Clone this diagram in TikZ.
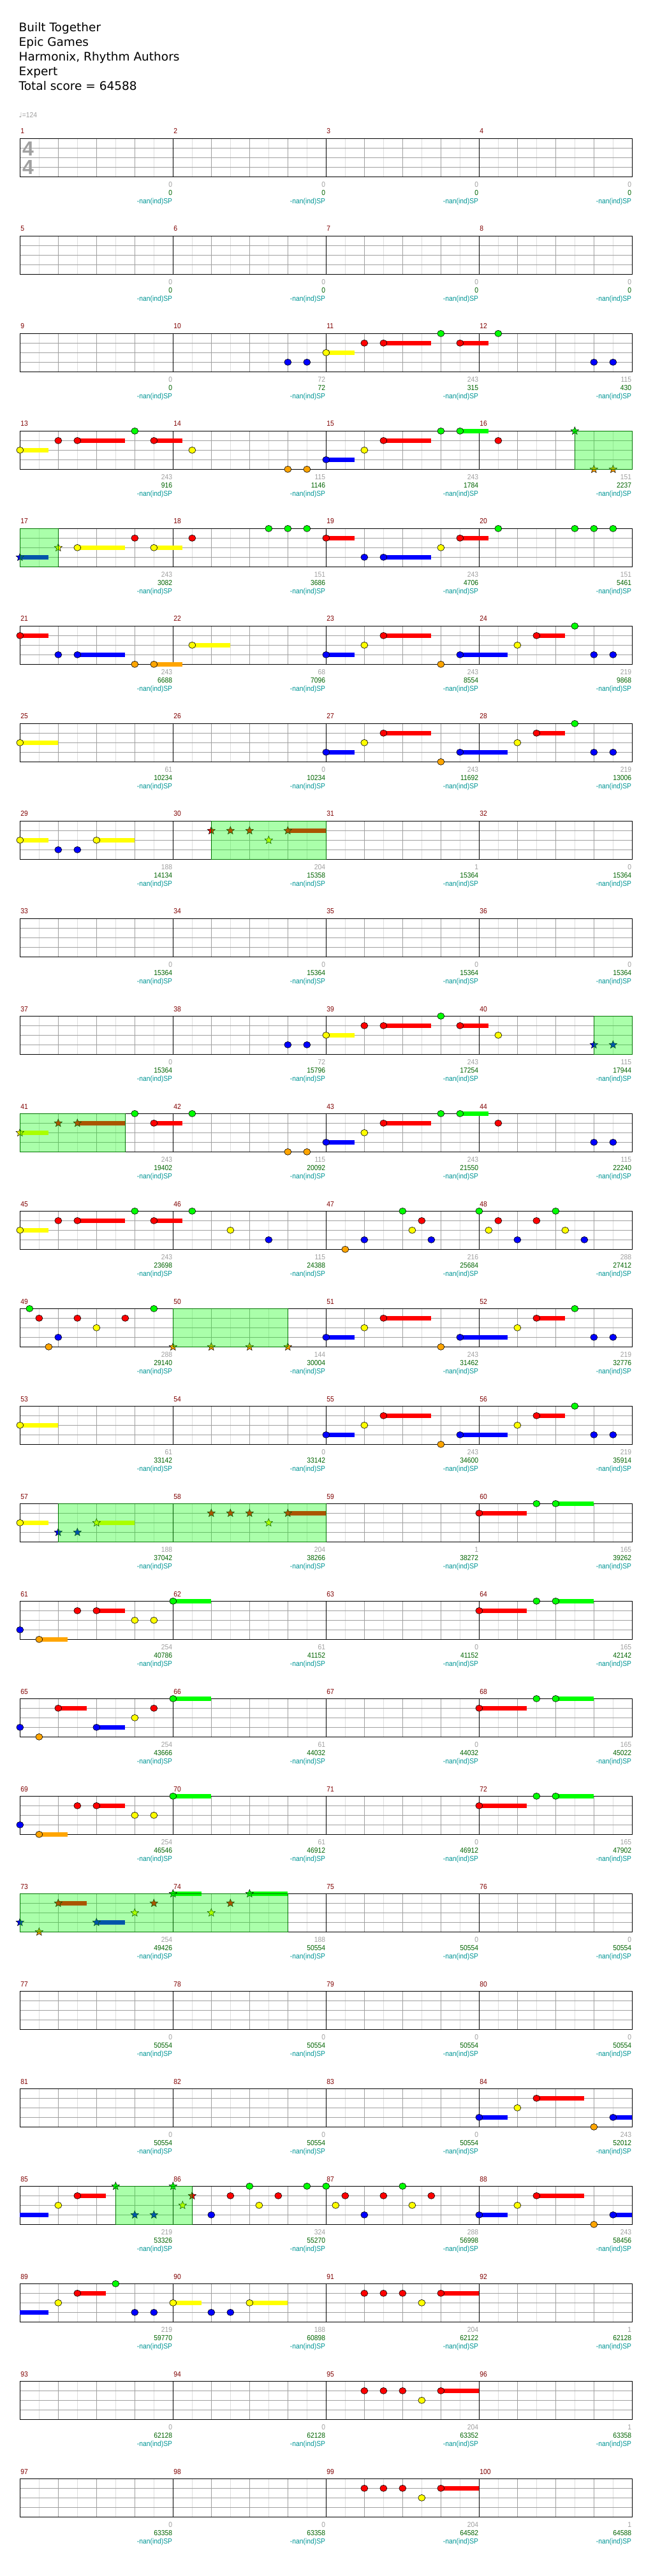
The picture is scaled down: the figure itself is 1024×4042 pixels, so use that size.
\documentclass[tikz,border=0pt]{standalone}
\usepackage{fontspec}
\setmainfont{DejaVu Sans}
\newfontfamily\labf[FakeStretch=0.9]{Liberation Sans}
\newfontfamily\tsf{Liberation Sans}
\newfontfamily\djv{DejaVu Sans}
\usetikzlibrary{shapes.geometric}
\definecolor{ln0}{RGB}{0,255,0}
\definecolor{ln1}{RGB}{255,0,0}
\definecolor{ln2}{RGB}{255,255,0}
\definecolor{ln3}{RGB}{0,0,255}
\definecolor{ln4}{RGB}{255,165,0}
\definecolor{lightgrid}{RGB}{222,222,222}
\definecolor{midgrid}{RGB}{160,160,160}
\definecolor{mnumc}{RGB}{128,0,0}
\definecolor{grayc}{RGB}{160,160,160}
\definecolor{greenc}{RGB}{0,100,0}
\definecolor{tealc}{RGB}{0,150,150}
\tikzset{
  row/.style={xshift=31.33pt, yshift={-(217.33+153*#1)*1pt}, x=15pt, y=-15pt},
  lightline/.style={draw=lightgrid, line width=1pt},
  midline/.style={draw=midgrid, line width=1pt},
  barline/.style={draw=black, line width=1pt},
  frame/.style={draw=black, line width=1.3pt},
  mnum/.style={font=\labf\fontsize{11.5}{12}\selectfont, text=mnumc, inner sep=0pt, anchor=base west},
  sc/.style={font=\labf\fontsize{11.5}{12}\selectfont, inner sep=0pt, anchor=base east},
  starnote/.style={star, star points=5, star point ratio=2.3, minimum size=13pt, inner sep=0pt, draw=black, line width=0.5pt},
  spfill/.style={fill=ln0, fill opacity=0.3333},
  spborder/.style={draw=green!45!black, line width=1pt},
  title/.style={anchor=base west, inner sep=0pt, font=\fontsize{18.5}{22}\selectfont},
  tsig/.style={font=\tsf\bfseries\fontsize{32}{32}\selectfont, text=grayc, inner sep=0pt},
}
\newcommand\Grid[2]{%
  \foreach \u in {2,6,...,62} {\draw[lightline] (\u,0) -- (\u,4);}
  \foreach \u in {4,8,12,20,24,28,36,40,44,52,56,60} {\draw[midline] (\u,0) -- (\u,4);}
  \foreach \l in {1,2,3} {\draw[midline] (0,\l) -- (64,\l);}
  \foreach \u in {16,32,48} {\draw[barline] (\u,0) -- (\u,4);}
  \draw[frame] (0,0) rectangle (64,4);
  \foreach \i in {0,...,3} {\pgfmathtruncatemacro\mm{#1+\i}\node[mnum] (m\mm) at (16*\i+0.05,-0.49) {\mm};}
  \foreach \sa/\sb [count=\i] in {#2} {%
    \pgfmathtruncatemacro\mm{#1+\i-1}%
    \node[sc, text=grayc] (ms\mm) at (16*\i-0.07,5.067) {\sa};
    \node[sc, text=greenc] (cs\mm) at (16*\i-0.07,5.933) {\sb};
    \node[sc, text=tealc] (sp\mm) at (16*\i-0.07,6.8) {-nan(ind)SP};
  }}
\newcommand\NoteH[2]{\filldraw[fill=ln#2, draw=black, line width=0.6pt] (#1,#2) ellipse [x radius=5.5pt, y radius=5pt];}
\newcommand\Sust[3]{\fill[ln#2] (#1,#2-0.233) rectangle ({#1+#3},{#2+0.233});}
\newcommand\NoteS[3]{\Sust{#1}{#2}{#3}\NoteH{#1}{#2}}
\newcommand\StarH[2]{\node[starnote, fill=ln#2] at (#1,#2) {};}
\newcommand\StarS[3]{\Sust{#1}{#2}{#3}\StarH{#1}{#2}}
\newcommand\SPow[2]{\fill[spfill] (#1,0) rectangle (#2,4); \draw[spborder] (#1,0) rectangle (#2,4);}
\newcommand\PatA{\NoteS{32}{3}{3}\NoteH{36}{2}\NoteS{38}{1}{5}\NoteH{44}{4}\NoteS{46}{3}{5}\NoteH{52}{2}\NoteS{54}{1}{3}\NoteH{58}{0}\NoteH{60}{3}\NoteH{62}{3}}
\newcommand\PatB{\NoteH{36}{1}\NoteH{38}{1}\NoteH{40}{1}\NoteH{42}{2}\NoteS{44}{1}{4}}
\newcommand\PatC{\NoteH{28}{4}\NoteH{30}{4}\NoteS{32}{3}{3}\NoteH{36}{2}\NoteS{38}{1}{5}\NoteH{44}{0}\NoteS{46}{0}{3}\NoteH{50}{1}}
\newcommand\PatD{\NoteS{48}{1}{5}\NoteH{54}{0}\NoteS{56}{0}{4}}
\newcommand\PatE{\NoteH{0}{3}\NoteS{2}{4}{3}\NoteH{6}{1}\NoteS{8}{1}{3}\NoteH{12}{2}\NoteH{14}{2}\NoteS{16}{0}{4}}
\begin{document}
\begin{tikzpicture}[x=1pt,y=-1pt]
\useasboundingbox (0,0) rectangle (1024,4042);
\fill[white] (0,0) rectangle (1024,4042);
\node[title] (t1) at (29.5,49.3) {Built Together};
\node[title] (t2) at (29.5,72.3) {Epic Games};
\node[title] (t3) at (29.5,95.3) {Harmonix, Rhythm Authors};
\node[title] (t4) at (29.5,118.3) {Expert};
\node[title] (t5) at (29.5,141.3) {Total score = 64588};
\node[anchor=base west, inner sep=0pt, text=grayc] (tempo) at (29.5,184) {{\djv\fontsize{11}{12}\selectfont\char"2669}{\labf\fontsize{11.5}{12}\selectfont =124}};

\begin{scope}[row=0]
\Grid{1}{0/0,0/0,0/0,0/0}
\node[tsig] (ts1) at (0.845,1.09) {4};
\node[tsig] (ts2) at (0.845,3.01) {4};
\end{scope}
\begin{scope}[row=1]
\Grid{5}{0/0,0/0,0/0,0/0}
\end{scope}
\begin{scope}[row=2]
\Grid{9}{0/0,72/72,243/315,115/430}
\NoteH{44}{0}\NoteH{50}{0}
\NoteH{36}{1}\NoteS{38}{1}{5}\NoteS{46}{1}{3}
\NoteS{32}{2}{3}
\NoteH{28}{3}\NoteH{30}{3}\NoteH{60}{3}\NoteH{62}{3}
\end{scope}
\begin{scope}[row=3]
\Grid{13}{243/916,115/1146,243/1784,151/2237}
\NoteH{12}{0}\NoteH{4}{1}\NoteS{6}{1}{5}\NoteS{14}{1}{3}\NoteS{0}{2}{3}\NoteH{18}{2}
\PatC
\StarH{58}{0}\StarH{60}{4}\StarH{62}{4}
\SPow{58}{64}
\end{scope}
\begin{scope}[row=4]
\Grid{17}{243/3082,151/3686,243/4706,151/5461}
\StarS{0}{3}{3}\StarH{4}{2}
\NoteS{6}{2}{5}\NoteS{14}{2}{3}
\NoteH{12}{1}\NoteH{18}{1}\NoteS{32}{1}{3}\NoteS{46}{1}{3}
\NoteH{26}{0}\NoteH{28}{0}\NoteH{30}{0}\NoteH{50}{0}\NoteH{58}{0}\NoteH{60}{0}\NoteH{62}{0}
\NoteH{44}{2}\NoteH{36}{3}\NoteS{38}{3}{5}
\SPow{0}{4}
\end{scope}
\begin{scope}[row=5]
\Grid{21}{243/6688,68/7096,243/8554,219/9868}
\NoteS{0}{1}{3}\NoteH{4}{3}\NoteS{6}{3}{5}\NoteH{12}{4}\NoteS{14}{4}{3}\NoteS{18}{2}{4}
\PatA
\end{scope}
\begin{scope}[row=6]
\Grid{25}{61/10234,0/10234,243/11692,219/13006}
\NoteS{0}{2}{4}\PatA
\end{scope}
\begin{scope}[row=7]
\Grid{29}{188/14134,204/15358,1/15364,0/15364}
\NoteS{0}{2}{3}\NoteH{4}{3}\NoteH{6}{3}\NoteS{8}{2}{4}
\StarH{20}{1}\StarH{22}{1}\StarH{24}{1}\StarS{28}{1}{4}\StarH{26}{2}
\SPow{20}{32}
\end{scope}
\begin{scope}[row=8]
\Grid{33}{0/15364,0/15364,0/15364,0/15364}
\end{scope}
\begin{scope}[row=9]
\Grid{37}{0/15364,72/15796,243/17254,115/17944}
\NoteH{28}{3}\NoteH{30}{3}\NoteS{32}{2}{3}\NoteH{36}{1}\NoteS{38}{1}{5}\NoteH{44}{0}\NoteS{46}{1}{3}\NoteH{50}{2}
\StarH{60}{3}\StarH{62}{3}
\SPow{60}{64}
\end{scope}
\begin{scope}[row=10]
\Grid{41}{243/19402,115/20092,243/21550,115/22240}
\StarS{0}{2}{3}\StarH{4}{1}\StarS{6}{1}{5}
\NoteH{12}{0}\NoteH{18}{0}\NoteS{14}{1}{3}
\PatC\NoteH{60}{3}\NoteH{62}{3}
\SPow{0}{11}
\end{scope}
\begin{scope}[row=11]
\Grid{45}{243/23698,115/24388,216/25684,288/27412}
\NoteS{0}{2}{3}\NoteH{4}{1}\NoteS{6}{1}{5}\NoteH{12}{0}\NoteS{14}{1}{3}\NoteH{18}{0}\NoteH{22}{2}\NoteH{26}{3}
\NoteH{34}{4}\NoteH{36}{3}\NoteH{40}{0}\NoteH{41}{2}\NoteH{42}{1}\NoteH{43}{3}
\NoteH{48}{0}\NoteH{49}{2}\NoteH{50}{1}\NoteH{52}{3}\NoteH{54}{1}\NoteH{56}{0}\NoteH{57}{2}\NoteH{59}{3}
\end{scope}
\begin{scope}[row=12]
\Grid{49}{288/29140,144/30004,243/31462,219/32776}
\NoteH{1}{0}\NoteH{2}{1}\NoteH{3}{4}\NoteH{4}{3}\NoteH{6}{1}\NoteH{8}{2}\NoteH{11}{1}\NoteH{14}{0}
\StarH{16}{4}\StarH{20}{4}\StarH{24}{4}\StarH{28}{4}
\PatA
\SPow{16}{28}
\end{scope}
\begin{scope}[row=13]
\Grid{53}{61/33142,0/33142,243/34600,219/35914}
\NoteS{0}{2}{4}\PatA
\end{scope}
\begin{scope}[row=14]
\Grid{57}{188/37042,204/38266,1/38272,165/39262}
\NoteS{0}{2}{3}\StarH{4}{3}\StarH{6}{3}\StarS{8}{2}{4}
\StarH{20}{1}\StarH{22}{1}\StarH{24}{1}\StarS{28}{1}{4}\StarH{26}{2}
\PatD
\SPow{4}{32}
\end{scope}
\begin{scope}[row=15]
\Grid{61}{254/40786,61/41152,0/41152,165/42142}
\PatE\PatD
\end{scope}
\begin{scope}[row=16]
\Grid{65}{254/43666,61/44032,0/44032,165/45022}
\NoteH{0}{3}\NoteH{2}{4}\NoteS{4}{1}{3}\NoteS{8}{3}{3}\NoteH{12}{2}\NoteH{14}{1}\NoteS{16}{0}{4}
\PatD
\end{scope}
\begin{scope}[row=17]
\Grid{69}{254/46546,61/46912,0/46912,165/47902}
\PatE\PatD
\end{scope}
\begin{scope}[row=18]
\Grid{73}{254/49426,188/50554,0/50554,0/50554}
\StarH{0}{3}\StarH{2}{4}\StarS{4}{1}{3}\StarS{8}{3}{3}\StarH{12}{2}\StarH{14}{1}\StarS{16}{0}{3}
\StarH{20}{2}\StarH{22}{1}\StarS{24}{0}{4}
\SPow{0}{28}
\end{scope}
\begin{scope}[row=19]
\Grid{77}{0/50554,0/50554,0/50554,0/50554}
\end{scope}
\begin{scope}[row=20]
\Grid{81}{0/50554,0/50554,0/50554,243/52012}
\NoteS{48}{3}{3}\NoteH{52}{2}\NoteS{54}{1}{5}\NoteH{60}{4}\NoteS{62}{3}{2}
\end{scope}
\begin{scope}[row=21]
\Grid{85}{219/53326,324/55270,288/56998,243/58456}
\Sust{0}{3}{3}\NoteH{4}{2}\NoteS{6}{1}{3}
\StarH{10}{0}\StarH{12}{3}\StarH{14}{3}\StarH{16}{0}\StarH{17}{2}\StarH{18}{1}
\NoteH{20}{3}\NoteH{22}{1}\NoteH{24}{0}\NoteH{25}{2}\NoteH{27}{1}\NoteH{30}{0}
\NoteH{32}{0}\NoteH{33}{2}\NoteH{34}{1}\NoteH{36}{3}\NoteH{38}{1}\NoteH{40}{0}\NoteH{41}{2}\NoteH{43}{1}
\NoteS{48}{3}{3}\NoteH{52}{2}\NoteS{54}{1}{5}\NoteH{60}{4}\NoteS{62}{3}{2}
\SPow{10}{18}
\end{scope}
\begin{scope}[row=22]
\Grid{89}{219/59770,188/60898,204/62122,1/62128}
\Sust{0}{3}{3}\NoteH{4}{2}\NoteS{6}{1}{3}\NoteH{10}{0}\NoteH{12}{3}\NoteH{14}{3}\NoteS{16}{2}{3}\NoteH{20}{3}\NoteH{22}{3}\NoteS{24}{2}{4}
\PatB
\end{scope}
\begin{scope}[row=23]
\Grid{93}{0/62128,0/62128,204/63352,1/63358}
\PatB
\end{scope}
\begin{scope}[row=24]
\Grid{97}{0/63358,0/63358,204/64582,1/64588}
\PatB
\end{scope}
\end{tikzpicture}
\end{document}
